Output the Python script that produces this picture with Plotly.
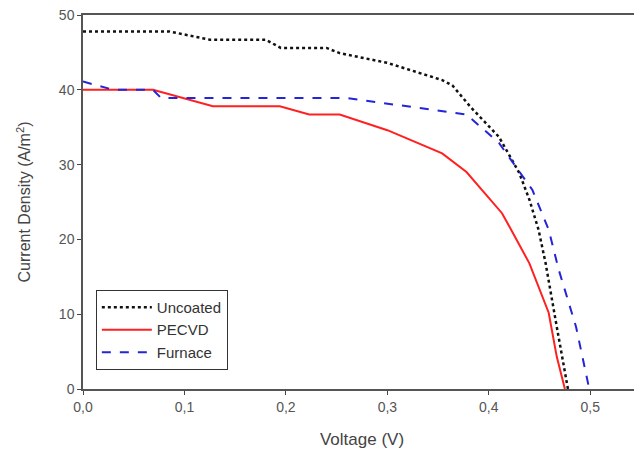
import plotly.graph_objects as go

uncoated_v = [0.0, 0.085, 0.125, 0.18, 0.195, 0.24, 0.253, 0.30, 0.354, 0.364, 0.382, 0.41, 0.43, 0.44, 0.449, 0.456, 0.467, 0.478]
uncoated_j = [47.8, 47.8, 46.7, 46.7, 45.6, 45.6, 44.9, 43.6, 41.3, 40.6, 37.7, 33.7, 28.9, 25.3, 21.3, 16.8, 8.3, 0.0]

pecvd_v = [0.0, 0.069, 0.128, 0.194, 0.223, 0.253, 0.30, 0.354, 0.378, 0.413, 0.422, 0.44, 0.459, 0.467, 0.475]
pecvd_j = [40.0, 40.0, 37.8, 37.8, 36.7, 36.7, 34.6, 31.5, 29.0, 23.5, 21.3, 16.8, 10.2, 4.3, 0.0]

furnace_v = [0.0, 0.03, 0.069, 0.077, 0.26, 0.378, 0.41, 0.427, 0.443, 0.459, 0.469, 0.486, 0.499]
furnace_j = [41.1, 40.0, 40.0, 38.9, 38.9, 36.7, 32.9, 29.7, 26.6, 21.3, 15.9, 8.3, 0.0]

fig = go.Figure()
fig.add_trace(go.Scatter(x=uncoated_v, y=uncoated_j, mode="lines", name="Uncoated",
                         line=dict(color="#111111", width=2.5, dash="dot")))
fig.add_trace(go.Scatter(x=pecvd_v, y=pecvd_j, mode="lines", name="PECVD",
                         line=dict(color="#ff2020", width=2)))
fig.add_trace(go.Scatter(x=furnace_v, y=furnace_j, mode="lines", name="Furnace",
                         line=dict(color="#2424d8", width=2, dash="dash")))

axis_common = dict(showgrid=False, zeroline=False, showline=True, linecolor="#555555",
                   linewidth=1.5, mirror=True, ticks="outside", ticklen=4, tickcolor="#444444",
                   automargin=False, ticklabeloverflow="allow",
                   tickfont=dict(size=14, color="#555555", family="Liberation Sans, Arial"))

fig.update_layout(
    width=634, height=446,
    margin=dict(l=75, r=1, t=7, b=65),
    paper_bgcolor="white", plot_bgcolor="white",
    separators=",.",
    showlegend=True,
    legend=dict(x=0.023, y=0.265, xanchor="left", yanchor="top",
                bordercolor="#333333", borderwidth=1, bgcolor="white",
                font=dict(size=15, color="#333333", family="Liberation Sans, Arial"),
                tracegroupgap=0, itemwidth=50),
    font=dict(family="Liberation Sans, Arial", color="#444444"),
)
fig.update_xaxes(range=[0, 0.55], tickvals=[0, 0.1, 0.2, 0.3, 0.4, 0.5], tickformat=".1f",
                 title=dict(text="Voltage (V)", font=dict(size=17, color="#444444"), standoff=20),
                 **axis_common)
fig.update_yaxes(range=[0, 50], tickvals=[0, 10, 20, 30, 40, 50],
                 title=dict(text="Current Density (A/m<sup>2</sup>)", font=dict(size=16, color="#444444"), standoff=24),
                 **axis_common)

fig.write_html("out.html")
